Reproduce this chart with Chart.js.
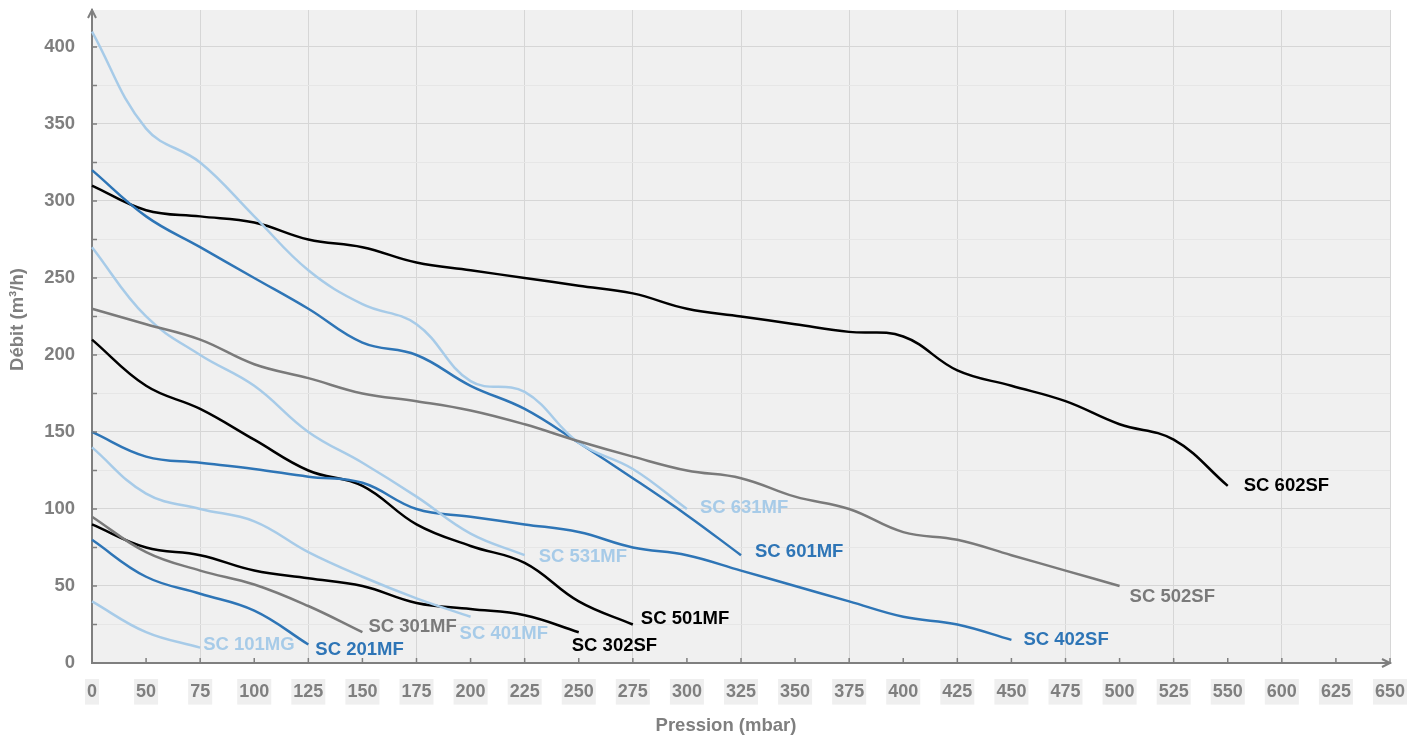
<!DOCTYPE html>
<html>
<head>
<meta charset="utf-8">
<script src="https://cdn.jsdelivr.net/npm/chart.js@4.4.1/dist/chart.umd.min.js"></script>
<style>
  html, body { margin: 0; padding: 0; background: #fff; }
  #wrap { width: 1422px; height: 738px; }
</style>
</head>
<body>
<div id="wrap"><canvas id="chart"></canvas></div>
<script>
// categories de l'axe X (telles qu'affichées sur le graphique d'origine)
const pressions = ["0", "50", "75", "100", "125", "150", "175", "200", "225", "250", "275", "300",
  "325", "350", "375", "400", "425", "450", "475", "500", "525", "550", "600", "625", "650"];

// débits (m³/h) par catégorie de pression
const sc101MG = [40, 20, 10];
const sc201MF = [80, 56, 45, 34, 12];
const sc301MF = [95, 72, 60, 51, 37, 20];
const sc302SF = [90, 75, 70, 60, 55, 50, 39, 35, 31, 20];
const sc401MF = [140, 110, 100, 92, 72, 56, 42, 30];
const sc402SF = [150, 134, 130, 126, 121, 117, 100, 95, 90, 85, 75, 70, 60, 50, 40, 30, 25, 15];
const sc501MF = [210, 180, 165, 145, 125, 115, 90, 76, 65, 40, 25];
const sc502SF = [230, 220, 210, 194, 185, 175, 170, 164, 155, 144, 134, 125, 120, 108, 100, 85, 80, 70, 60, 50];
const sc531MF = [270, 225, 200, 180, 150, 130, 108, 84, 70];
const sc601MF = [320, 290, 270, 250, 230, 208, 200, 180, 165, 143, 120, 96, 70];
const sc602SF = [310, 294, 290, 286, 275, 270, 260, 255, 250, 245, 240, 230, 225, 220, 215, 212, 190, 180, 170, 155, 145, 115];
const sc631MF = [410, 347, 325, 290, 255, 233, 220, 183, 176, 143, 126, 100];

const titreX = "Pression (mbar)";
const titreY = "Débit (m³/h)";

const NOIR = "#000000";
const BLEU = "#2e75b6";
const BLEU_CLAIR = "#a7cbe8";
const GRIS = "#7a7a7a";
const TEXTE = "#7f7f7f";
const POLICE = "'Liberation Sans', Arial, sans-serif";

// décalage des étiquettes en bout de courbe (px)
const labelOffsets = {
  "SC 101MG": [3, -3], "SC 201MF": [7, 5], "SC 301MF": [6, -5], "SC 302SF": [-7, 14],
  "SC 401MF": [-11, 17], "SC 402SF": [12, 0], "SC 501MF": [8, -6], "SC 502SF": [10, 11],
  "SC 531MF": [14, 2], "SC 601MF": [14, -3], "SC 602SF": [16, 0], "SC 631MF": [13, -1]
};

const serie = (label, data, color) => ({
  label, data, borderColor: color, backgroundColor: color,
  borderWidth: 2.5, pointRadius: 0, tension: 0.4, fill: false
});

const datasets = [
  serie("SC 502SF", sc502SF, GRIS),
  serie("SC 301MF", sc301MF, GRIS),
  serie("SC 101MG", sc101MG, BLEU_CLAIR),
  serie("SC 401MF", sc401MF, BLEU_CLAIR),
  serie("SC 531MF", sc531MF, BLEU_CLAIR),
  serie("SC 631MF", sc631MF, BLEU_CLAIR),
  serie("SC 201MF", sc201MF, BLEU),
  serie("SC 402SF", sc402SF, BLEU),
  serie("SC 601MF", sc601MF, BLEU),
  serie("SC 302SF", sc302SF, NOIR),
  serie("SC 501MF", sc501MF, NOIR),
  serie("SC 602SF", sc602SF, NOIR)
];

// fond gris, flèches des axes, petites graduations vers l'intérieur, titres, étiquettes des courbes
const decor = {
  id: "decor",
  beforeDraw(chart) {
    const { ctx, chartArea: a } = chart;
    ctx.save();
    ctx.fillStyle = "#f0f0f0";
    ctx.fillRect(a.left, a.top, a.right - a.left, a.bottom - a.top);
    ctx.restore();
  },
  afterDatasetsDraw(chart) {
    const { ctx, chartArea: a, scales } = chart;
    ctx.save();
    ctx.strokeStyle = TEXTE;
    ctx.lineWidth = 1.5;
    ctx.beginPath();
    scales.y.ticks.forEach(t => {
      const y = scales.y.getPixelForValue(t.value);
      ctx.moveTo(a.left, y); ctx.lineTo(a.left + 5, y);
    });
    pressions.forEach((p, i) => {
      const x = scales.x.getPixelForValue(i);
      ctx.moveTo(x, a.bottom); ctx.lineTo(x, a.bottom - 5);
    });
    ctx.stroke();
    // flèches
    ctx.lineWidth = 2;
    ctx.beginPath();
    ctx.moveTo(a.left - 4, a.top + 8); ctx.lineTo(a.left, a.top); ctx.lineTo(a.left + 4, a.top + 8);
    ctx.moveTo(a.right - 8, a.bottom - 4); ctx.lineTo(a.right, a.bottom); ctx.lineTo(a.right - 8, a.bottom + 4);
    ctx.stroke();

    // titres des axes (un peu décalés du centre, comme l'original)
    ctx.font = "bold 18.5px " + POLICE;
    ctx.fillStyle = TEXTE;
    ctx.textAlign = "center";
    ctx.textBaseline = "middle";
    ctx.fillText(titreX, (a.left + a.right) / 2 - 15, 726);
    ctx.save();
    ctx.translate(18, (a.top + a.bottom) / 2 - 17);
    ctx.rotate(-Math.PI / 2);
    ctx.fillText(titreY, 0, 0);
    ctx.restore();

    ctx.textAlign = "left";
    chart.data.datasets.forEach((ds, i) => {
      const pts = chart.getDatasetMeta(i).data;
      const last = pts[pts.length - 1];
      const off = labelOffsets[ds.label];
      ctx.fillStyle = ds.borderColor;
      ctx.fillText(ds.label, last.x + off[0], last.y + off[1]);
    });
    ctx.restore();
  }
};

new Chart(document.getElementById("chart"), {
  type: "line",
  data: { labels: pressions, datasets },
  plugins: [decor],
  options: {
    responsive: true,
    maintainAspectRatio: false,
    animation: false,
    layout: { padding: { top: 10, right: 32, left: 0, bottom: 0 } },
    plugins: { legend: { display: false }, tooltip: { enabled: false } },
    scales: {
      x: {
        type: "category",
        offset: false,
        afterFit: s => { s.height = 75; s.paddingLeft = 0; s.paddingRight = 0; },
        border: { color: TEXTE, width: 2 },
        grid: {
          drawTicks: false,
          color: c => (c.index % 2 === 0 && c.index > 0) ? "#d6d6d6" : "rgba(0,0,0,0)"
        },
        ticks: {
          autoSkip: false, maxRotation: 0, padding: 18,
          color: TEXTE,
          font: { family: POLICE, size: 18, weight: "bold" },
          showLabelBackdrop: true, backdropColor: "#efefef", backdropPadding: 2
        }
      },
      y: {
        min: 0, max: 424,
        afterFit: s => { s.width = 92; s.paddingTop = 0; s.paddingBottom = 0; },
        border: { color: TEXTE, width: 2 },
        grid: {
          drawTicks: false,
          color: c => (c.tick.value % 50 === 0) ? "#d6d6d6" : "#e6e6e6"
        },
        ticks: {
          stepSize: 25, includeBounds: false, padding: 17,
          color: TEXTE,
          font: { family: POLICE, size: 18.5, weight: "bold" },
          callback: v => (v % 50 === 0 ? v : "")
        }
      }
    }
  }
});
</script>
</body>
</html>
